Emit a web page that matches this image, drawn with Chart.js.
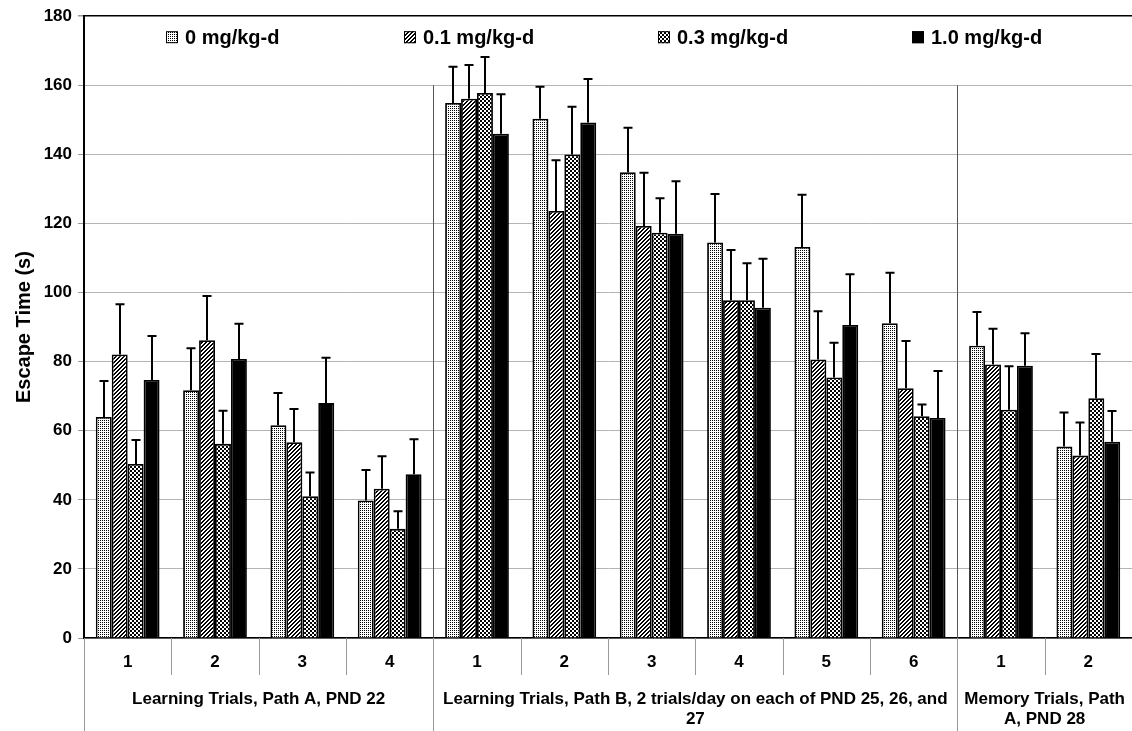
<!DOCTYPE html>
<html>
<head>
<meta charset="utf-8">
<script src="https://cdn.jsdelivr.net/npm/chart.js@4.4.1/dist/chart.umd.min.js"></script>
<style>
  html, body { margin: 0; padding: 0; background: #fff; }
  #wrap { width: 1132px; height: 731px; }
</style>
</head>
<body>
<div id="wrap"><canvas id="myChart"></canvas></div>
<script>
// trial numbers along the x axis, and the three groups they belong to
const trialLabels = ['1', '2', '3', '4', '1', '2', '3', '4', '5', '6', '1', '2'];
const groupSizes = [4, 6, 2];
const groupNames = [
    ['Learning Trials, Path A, PND 22'],
    ['Learning Trials, Path B, 2 trials/day on each of PND 25, 26, and', '27'],
    ['Memory Trials, Path', 'A, PND 28']
];

const doseLabels = ['0 mg/kg-d', '0.1 mg/kg-d', '0.3 mg/kg-d', '1.0 mg/kg-d'];

// mean escape time (s) and the upper error (SEM) for every dose
const dose0 = [64.0, 71.7, 61.6, 39.8, 154.9, 150.3, 134.8, 114.5, 113.2, 91.1, 84.6, 55.4];
const dose0Err = [10.4, 12.2, 9.3, 8.8, 10.5, 9.3, 12.9, 14.0, 15.1, 14.6, 9.8, 9.9];
const dose01 = [82.1, 86.2, 56.7, 43.2, 156.1, 123.6, 119.3, 97.8, 80.6, 72.3, 79.2, 52.8];
const dose01Err = [14.5, 12.8, 9.6, 9.4, 9.8, 14.7, 15.4, 14.5, 14.0, 13.7, 10.3, 9.6];
const dose03 = [50.4, 56.2, 41.0, 31.6, 157.8, 140.0, 117.3, 97.8, 75.4, 64.2, 66.1, 69.4];
const dose03Err = [6.9, 9.6, 6.9, 5.1, 10.4, 13.8, 10.0, 10.7, 10.1, 3.4, 12.6, 12.8];
const dose10 = [74.7, 80.8, 68.0, 47.4, 146.0, 149.2, 117.0, 95.6, 90.6, 63.7, 78.8, 56.8];
const dose10Err = [12.7, 10.2, 13.1, 10.1, 11.4, 12.6, 15.2, 14.2, 14.7, 13.6, 9.4, 8.9];

const yMin = 0;
const yMax = 180;
const yStep = 20;
const separatorTop = 160; // the group dividers stop below the legend

const fontFamily = "'Liberation Sans', Arial, sans-serif";
Chart.defaults.font.family = fontFamily;
Chart.defaults.font.weight = 'bold';
Chart.defaults.color = '#000';

// small bitmap fills, like the old black & white chart patterns
function makePattern(size, isBlack) {
    let c = document.createElement('canvas');
    c.width = size;
    c.height = size;
    let g = c.getContext('2d');
    g.fillStyle = '#fff';
    g.fillRect(0, 0, size, size);
    g.fillStyle = '#000';
    for (let y = 0; y < size; y++) {
        for (let x = 0; x < size; x++) {
            if (isBlack(x, y)) g.fillRect(x, y, 1, 1);
        }
    }
    return document.createElement('canvas').getContext('2d').createPattern(c, 'repeat');
}

const dotFill = makePattern(4, (x, y) => x % 2 === 0 && y % 2 === 0);
const hatchFill = makePattern(4, (x, y) => x === 3 - y || x === (4 - y) % 4);
const checkFill = makePattern(4, (x, y) => ((x >> 1) + (y >> 1)) % 2 === 0);
const fills = [dotFill, hatchFill, checkFill, '#000'];

const seriesValues = [dose0, dose01, dose03, dose10];
const seriesErrors = [dose0Err, dose01Err, dose03Err, dose10Err];

// upward error bars with a short cap
const errorBars = {
    id: 'errorBars',
    afterDatasetsDraw(chart) {
        const ctx = chart.ctx;
        const yScale = chart.scales.y;
        ctx.save();
        ctx.strokeStyle = '#000';
        ctx.lineWidth = 2;
        chart.data.datasets.forEach((ds, di) => {
            chart.getDatasetMeta(di).data.forEach((bar, i) => {
                const top = yScale.getPixelForValue(ds.data[i] + ds.errors[i]);
                const x = Math.round(bar.x);
                ctx.beginPath();
                ctx.moveTo(x, bar.y);
                ctx.lineTo(x, top);
                ctx.moveTo(x - 4.5, top);
                ctx.lineTo(x + 4.5, top);
                ctx.stroke();
            });
        });
        ctx.restore();
    }
};

// category dividers, group dividers and group names under the axis
const groupAxis = {
    id: 'groupAxis',
    beforeDatasetsDraw(chart) {
        const ctx = chart.ctx;
        const xScale = chart.scales.x;
        const yScale = chart.scales.y;
        const area = chart.chartArea;
        const half = (xScale.getPixelForValue(1) - xScale.getPixelForValue(0)) / 2;
        ctx.save();
        ctx.strokeStyle = '#555';
        ctx.lineWidth = 1;
        let start = 0;
        groupSizes.forEach((n, gi) => {
            if (gi > 0) {
                const x = Math.round(xScale.getPixelForValue(start) - half) + 0.5;
                ctx.beginPath();
                ctx.moveTo(x, yScale.getPixelForValue(separatorTop));
                ctx.lineTo(x, area.bottom);
                ctx.stroke();
            }
            start += n;
        });
        ctx.restore();
    },
    afterDraw(chart) {
        const ctx = chart.ctx;
        const xScale = chart.scales.x;
        const area = chart.chartArea;
        const half = (xScale.getPixelForValue(1) - xScale.getPixelForValue(0)) / 2;
        ctx.save();
        ctx.strokeStyle = '#999';
        ctx.lineWidth = 1;
        // short dividers between trials, long ones between groups
        let groupStarts = [];
        let s = 0;
        groupSizes.forEach(n => { groupStarts.push(s); s += n; });
        for (let i = 0; i <= trialLabels.length; i++) {
            const x = Math.round(xScale.getPixelForValue(i) - half) + 0.5;
            const long = groupStarts.includes(i) || i === trialLabels.length;
            ctx.beginPath();
            ctx.moveTo(x, area.bottom);
            ctx.lineTo(x, long ? chart.height : area.bottom + 37);
            ctx.stroke();
        }
        // group names
        ctx.fillStyle = '#000';
        ctx.font = 'bold 17px ' + fontFamily;
        ctx.textAlign = 'center';
        ctx.textBaseline = 'middle';
        groupSizes.forEach((n, gi) => {
            const left = xScale.getPixelForValue(groupStarts[gi]) - half;
            const right = xScale.getPixelForValue(groupStarts[gi] + n - 1) + half;
            const cx = (left + Math.min(right, chart.width + 3)) / 2;
            groupNames[gi].forEach((line, li) => {
                ctx.fillText(line, cx, area.bottom + 61 + li * 20);
            });
        });
        ctx.restore();
    }
};

// legend sits inside the plot, just below the top line
const insideLegend = {
    id: 'insideLegend',
    afterDraw(chart) {
        const ctx = chart.ctx;
        const area = chart.chartArea;
        const box = 12;
        const gap = 124;
        ctx.save();
        ctx.font = 'bold 20px ' + fontFamily;
        const widths = doseLabels.map(t => box + 7 + ctx.measureText(t).width);
        const total = widths.reduce((a, b) => a + b, 0) + gap * (widths.length - 1);
        let x = (area.left + area.right) / 2 - total / 2 - 4;
        const cy = area.top + 21;
        ctx.textBaseline = 'middle';
        doseLabels.forEach((t, i) => {
            const bx = Math.round(x);
            ctx.fillStyle = fills[i];
            ctx.fillRect(bx, cy - 6, box, box);
            ctx.strokeStyle = '#000';
            ctx.lineWidth = 1;
            ctx.strokeRect(bx + 0.5, cy - 5.5, box - 1, box - 1);
            ctx.fillStyle = '#000';
            ctx.fillText(t, bx + box + 7, cy + 1);
            x += widths[i] + gap;
        });
        ctx.restore();
    }
};

const ctx = document.getElementById('myChart').getContext('2d');

new Chart(ctx, {
    type: 'bar',
    data: {
        labels: trialLabels,
        datasets: doseLabels.map((label, i) => ({
            label: label,
            data: seriesValues[i],
            errors: seriesErrors[i],
            backgroundColor: fills[i],
            borderColor: '#000',
            borderWidth: 1.8,
            categoryPercentage: 0.73,
            barPercentage: 1.0
        }))
    },
    options: {
        responsive: true,
        maintainAspectRatio: false,
        animation: false,
        layout: { padding: { top: 16, left: 0, right: 0, bottom: 0 } },
        plugins: {
            legend: { display: false },
            tooltip: { enabled: false }
        },
        scales: {
            x: {
                grid: { display: false },
                border: { color: '#000', width: 1.5 },
                ticks: { font: { size: 17, weight: 'bold' }, padding: 6 },
                afterFit(scale) { scale.height = 93; }
            },
            y: {
                min: yMin,
                max: yMax,
                ticks: { stepSize: yStep, font: { size: 17, weight: 'bold' }, padding: 6 },
                grid: {
                    color: c => c.tick && c.tick.value === yMax ? '#000' : '#b4b4b4',
                    lineWidth: c => c.tick && c.tick.value === yMax ? 1.5 : 1,
                    tickLength: 6,
                    tickColor: '#999'
                },
                border: { color: '#000', width: 2 },
                title: {
                    display: true,
                    text: 'Escape Time (s)',
                    font: { size: 20, weight: 'bold' },
                    padding: { top: 12, bottom: 0 }
                },
                afterFit(scale) { scale.width = 84; }
            }
        }
    },
    plugins: [errorBars, groupAxis, insideLegend]
});
</script>
</body>
</html>
